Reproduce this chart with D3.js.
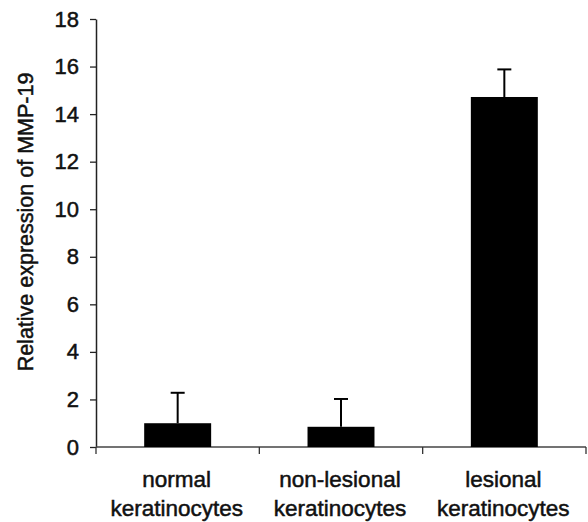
<!DOCTYPE html>
<html>
<head>
<meta charset="utf-8">
<script src="https://cdn.jsdelivr.net/npm/d3@7"></script>
<style>
  body { margin: 0; background: #fff; }
  svg text { font-family: "Liberation Sans", Arial, sans-serif; fill: #111; stroke: #111; stroke-width: 0.5px; }
</style>
</head>
<body>
<svg id="chart" width="588" height="522"></svg>
<script>
// chart data
var categories = [["normal", "keratinocytes"], ["non-lesional", "keratinocytes"], ["lesional", "keratinocytes"]]
var values = [1.0, 0.85, 14.72]
var errors = [1.28, 1.17, 1.16]
var yTicks = [0, 2, 4, 6, 8, 10, 12, 14, 16, 18]

var svg = d3.select('#chart')
var plotLeft = 96, plotRight = 586, plotTop = 19, plotBottom = 447

var x = d3.scaleBand()
    .domain(d3.range(categories.length))
    .range([plotLeft, plotRight])
    .paddingInner(0.59)
    .paddingOuter(0.295)
var bands = d3.scaleBand().domain(d3.range(categories.length)).range([plotLeft, plotRight])
var y = d3.scaleLinear().domain([0, 18]).range([plotBottom, plotTop])

// y axis
var yAxis = svg.append('g')
    .attr('transform', 'translate(' + plotLeft + ',0)')
    .call(d3.axisLeft(y).tickValues(yTicks).tickSize(6).tickPadding(11).tickSizeOuter(0))
yAxis.select('.domain').attr('stroke', '#222').attr('stroke-width', 1.5)
yAxis.selectAll('.tick line').attr('stroke', '#222').attr('stroke-width', 1.3)
yAxis.selectAll('.tick text').style('font-size', '22px').attr('fill', '#111')

// x axis: ticks at band boundaries
svg.append('line')
    .attr('x1', plotLeft).attr('x2', plotRight)
    .attr('y1', plotBottom).attr('y2', plotBottom)
    .attr('stroke', '#444').attr('stroke-width', 1.5)
var bounds = d3.range(categories.length).map(function(i) { return bands(i) + bands.bandwidth() })
bounds.unshift(plotLeft)
svg.selectAll('.xtick')
    .data(bounds)
    .enter()
    .append('line')
    .attr('class', 'xtick')
    .attr('x1', function(d) { return d }).attr('x2', function(d) { return d })
    .attr('y1', plotBottom).attr('y2', plotBottom + 7)
    .attr('stroke', '#333').attr('stroke-width', 1.3)

// bars
svg.selectAll('.bar')
    .data(values)
    .enter()
    .append('rect')
    .attr('class', 'bar')
    .attr('x', function(d, i) { return x(i) })
    .attr('width', x.bandwidth())
    .attr('y', function(d) { return y(d) })
    .attr('height', function(d) { return plotBottom - y(d) })
    .attr('fill', '#000')

// error bars (upper only)
values.forEach(function(v, i) {
    var cx = x(i) + x.bandwidth() / 2
    svg.append('line')
        .attr('x1', cx).attr('x2', cx)
        .attr('y1', y(v)).attr('y2', y(v + errors[i]))
        .attr('stroke', '#000').attr('stroke-width', 2)
    svg.append('line')
        .attr('x1', cx - 7).attr('x2', cx + 7)
        .attr('y1', y(v + errors[i])).attr('y2', y(v + errors[i]))
        .attr('stroke', '#000').attr('stroke-width', 2)
})

// category labels
categories.forEach(function(lines, i) {
    var cx = bands(i) + bands.bandwidth() / 2 - 1
    svg.append('text')
        .attr('x', cx).attr('y', 487)
        .attr('text-anchor', 'middle')
        .style('font-size', '22.5px')
        .text(lines[0])
    svg.append('text')
        .attr('x', cx).attr('y', 516)
        .attr('text-anchor', 'middle')
        .style('font-size', '22.5px')
        .text(lines[1])
})

// y title
svg.append('text')
    .attr('transform', 'translate(33,222) rotate(-90)')
    .attr('text-anchor', 'middle')
    .style('font-size', '21.5px')
    .text('Relative expression of MMP-19')
</script>
</body>
</html>
